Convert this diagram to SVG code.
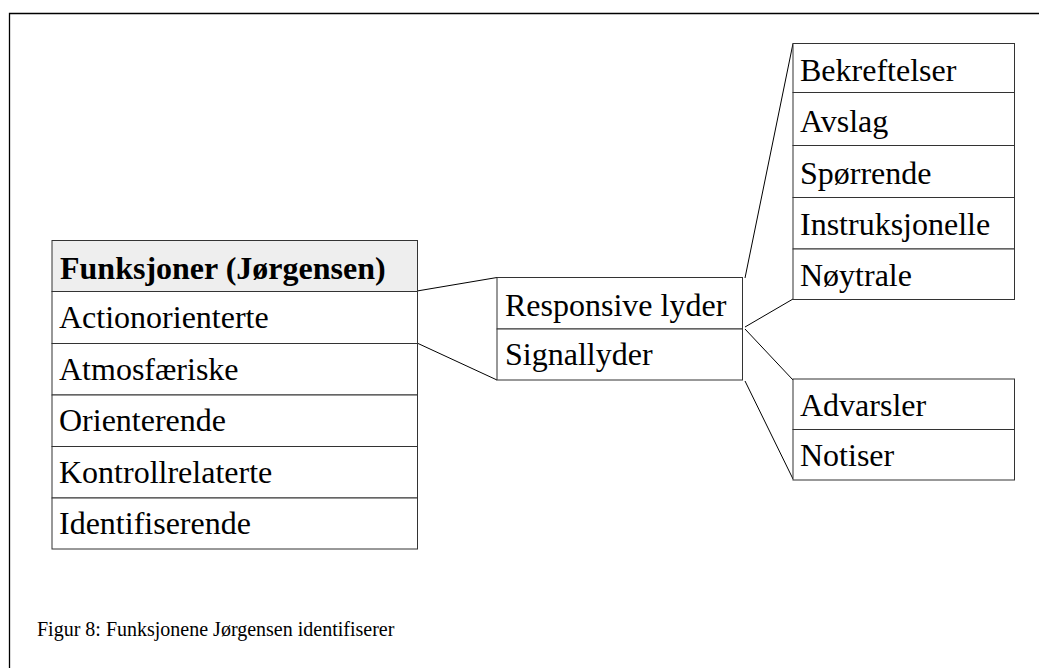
<svg xmlns="http://www.w3.org/2000/svg" width="1039" height="668" viewBox="0 0 1039 668">
  <style>
    .cell { fill: #ffffff; stroke: #333333; stroke-width: 1; }
    .head { fill: #eeeeee; stroke: #333333; stroke-width: 1; }
    .lbl { font-family: "Liberation Serif", "Times New Roman", serif; font-size: 32px; fill: #000000; }
    .bold { font-weight: bold; }
    .conn { stroke: #000000; stroke-width: 1; fill: none; }
    .frame { stroke: #000000; stroke-width: 1.3; fill: none; }
    .cap { font-family: "Liberation Serif", "Times New Roman", serif; font-size: 20px; fill: #000000; }
  </style>

  <rect width="1039" height="668" fill="#ffffff"/>
  <!-- surrounding frame (only top and left edges fall inside the page) -->
  <path class="frame" d="M9.5,668 V13.5 H1039"/>

  <g id="connectors">
    <line class="conn" x1="417" y1="291" x2="497" y2="277.5"/>
    <line class="conn" x1="417" y1="343" x2="497" y2="380"/>
    <line class="conn" x1="745" y1="278" x2="793" y2="43.5"/>
    <line class="conn" x1="745" y1="327" x2="793" y2="299"/>
    <line class="conn" x1="745" y1="329" x2="793" y2="380"/>
    <line class="conn" x1="745" y1="381" x2="793" y2="479"/>
  </g>

  <g id="funksjoner">
    <rect class="head" x="52" y="240.5" width="365.5" height="51"/>
    <rect class="cell" x="52" y="291.5" width="365.5" height="52"/>
    <rect class="cell" x="52" y="343.5" width="365.5" height="51.5"/>
    <rect class="cell" x="52" y="395" width="365.5" height="51.5"/>
    <rect class="cell" x="52" y="446.5" width="365.5" height="51.5"/>
    <rect class="cell" x="52" y="498" width="365.5" height="51"/>
    <text class="lbl bold" x="60" y="279">Funksjoner (Jørgensen)</text>
    <text class="lbl" x="59" y="328">Actionorienterte</text>
    <text class="lbl" x="59" y="380">Atmosfæriske</text>
    <text class="lbl" x="59" y="431">Orienterende</text>
    <text class="lbl" x="59" y="483">Kontrollrelaterte</text>
    <text class="lbl" x="59" y="534">Identifiserende</text>
  </g>

  <g id="lydtyper">
    <rect class="cell" x="497" y="277.5" width="245.5" height="51.5"/>
    <rect class="cell" x="497" y="329" width="245.5" height="51"/>
    <text class="lbl" x="505" y="316">Responsive lyder</text>
    <text class="lbl" x="505" y="365">Signallyder</text>
  </g>

  <g id="responsive">
    <rect class="cell" x="793" y="43.5" width="221.5" height="49"/>
    <rect class="cell" x="793" y="92.5" width="221.5" height="53"/>
    <rect class="cell" x="793" y="145.5" width="221.5" height="52"/>
    <rect class="cell" x="793" y="197.5" width="221.5" height="51.5"/>
    <rect class="cell" x="793" y="249" width="221.5" height="50.5"/>
    <text class="lbl" x="800" y="81">Bekreftelser</text>
    <text class="lbl" x="800" y="132">Avslag</text>
    <text class="lbl" x="800" y="184">Spørrende</text>
    <text class="lbl" x="800" y="235">Instruksjonelle</text>
    <text class="lbl" x="800" y="286">Nøytrale</text>
  </g>

  <g id="signal">
    <rect class="cell" x="793" y="379" width="221.5" height="50.5"/>
    <rect class="cell" x="793" y="429.5" width="221.5" height="50.5"/>
    <text class="lbl" x="800" y="416">Advarsler</text>
    <text class="lbl" x="800" y="466">Notiser</text>
  </g>

  <text class="cap" x="37" y="636">Figur 8: Funksjonene Jørgensen identifiserer</text>
</svg>
